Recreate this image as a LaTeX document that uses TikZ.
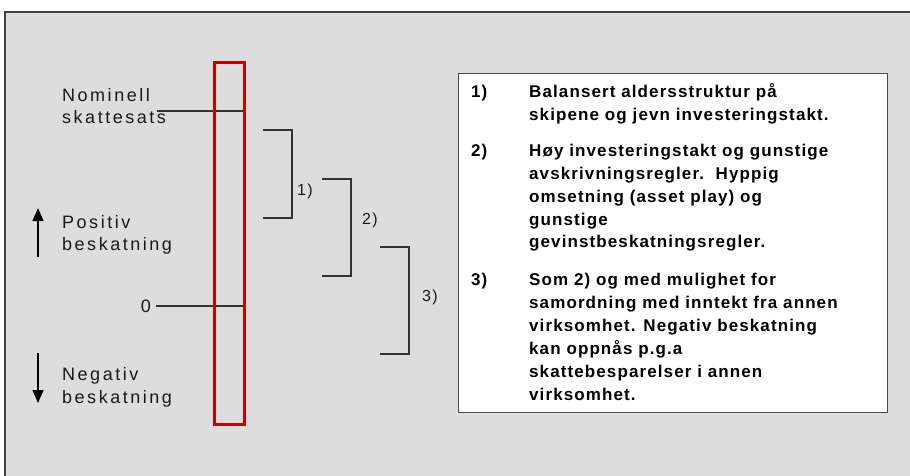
\documentclass[tikz,border=0pt]{standalone}
\usepackage{fontspec}
\setmainfont{Liberation Sans}
\usetikzlibrary{arrows.meta}
\definecolor{panelgray}{HTML}{DDDDDD}
\definecolor{barred}{HTML}{CC0000}
\definecolor{linegray}{HTML}{333333}
\tikzset{
  lbl/.style={inner sep=0pt, anchor=base west, text=black!90,
    font=\fontsize{18}{22}\selectfont\addfontfeatures{LetterSpace=14}},
  numlbl/.style={inner sep=0pt, anchor=base west, text=black!90,
    font=\fontsize{16}{20}\selectfont\addfontfeatures{LetterSpace=8}},
  boxtxt/.style={inner sep=0pt, anchor=base west, text=black,
    font=\fontsize{17}{20}\selectfont\bfseries\addfontfeatures{LetterSpace=6.5}},
  bracket/.style={draw=linegray, line width=1.3pt},
  tick/.style={draw=linegray, line width=1.2pt},
  updown/.style={draw=black, line width=1.2pt, -{Triangle[width=11pt,length=13pt]}}
}
\begin{document}
\begin{tikzpicture}[x=1pt,y=-1pt]
\useasboundingbox (0,0) rectangle (910,475);
% panel
\fill[white] (0,0) rectangle (910,475);
\filldraw[fill=panelgray, draw=black!75, line width=1.2pt] (5,12) rectangle (925,490);

% scale bar with ticks
\draw[tick] (157,111) coordinate (nomL) -- (243,111) coordinate (nomR);
\draw[tick] (156,306) coordinate (zeroL) -- (243,306) coordinate (zeroR);
\node[draw=barred, line width=3pt, minimum width=30pt, minimum height=362pt, inner sep=0pt, anchor=north west] (bar) at (213,61) {};

% left labels
\node[lbl] (nom1) at (62,101) {Nominell};
\node[lbl] (nom2) at (62,123) {skattesats};
\node[lbl] (pos1) at (62,228) {Positiv};
\node[lbl] (pos2) at (62,250) {beskatning};
\node[lbl, anchor=base east] (zero) at (151,312) {0};
\node[lbl] (neg1) at (62,380) {Negativ};
\node[lbl] (neg2) at (62,403) {beskatning};

% direction arrows
\coordinate (upA) at (38,257);
\coordinate (upB) at (38,208);
\coordinate (dnA) at (38,353);
\coordinate (dnB) at (38,403);
\draw[updown] (upA) -- (upB);
\draw[updown] (dnA) -- (dnB);

% brackets
\draw[bracket] (263,130) -- (292,130) -- (292,218) -- (263,218);
\draw[bracket] (322,179) -- (351,179) -- (351,276) -- (322,276);
\draw[bracket] (380,247) -- (409,247) -- (409,354) -- (380,354);
\node[numlbl] (b1) at (297,195) {1)};
\node[numlbl] (b2) at (362,224) {2)};
\node[numlbl] (b3) at (422,301) {3)};

% explanation box
\node[draw=black!70, fill=white, line width=1.3pt, minimum width=429pt, minimum height=339pt, inner sep=0pt, anchor=north west] (expl) at (458,73) {};

\node[boxtxt] (n1) at (471,97) {1)};
\node[boxtxt] (t1a) at (529,97) {Balansert aldersstruktur på};
\node[boxtxt] (t1b) at (529,120.5) {skipene og jevn investeringstakt.};

\node[boxtxt] (n2) at (471,156.7) {2)};
\node[boxtxt] (t2a) at (529,156.7) {Høy investeringstakt og gunstige};
\node[boxtxt] (t2b) at (529,179.5) {avskrivningsregler.\ \ Hyppig};
\node[boxtxt] (t2c) at (529,202.3) {omsetning (asset play) og};
\node[boxtxt] (t2d) at (529,225.1) {gunstige};
\node[boxtxt] (t2e) at (529,247.9) {gevinstbeskatningsregler.};

\node[boxtxt] (n3) at (471,285) {3)};
\node[boxtxt] (t3a) at (529,285) {Som 2) og med mulighet for};
\node[boxtxt] (t3b) at (529,308) {samordning med inntekt fra annen};
\node[boxtxt] (t3c) at (529,331) {virksomhet. Negativ beskatning};
\node[boxtxt] (t3d) at (529,354) {kan oppnås p.g.a};
\node[boxtxt] (t3e) at (529,377) {skattebesparelser i annen};
\node[boxtxt] (t3f) at (529,400) {virksomhet.};
\end{tikzpicture}
\end{document}
